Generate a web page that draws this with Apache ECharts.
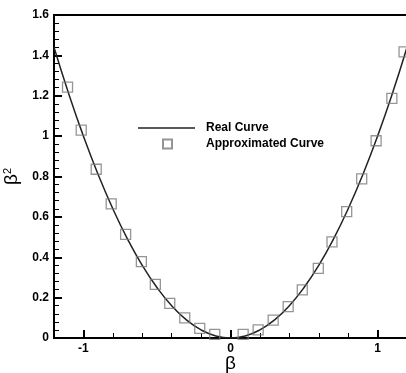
<!DOCTYPE html>
<html>
<head>
<meta charset="utf-8">
<script src="https://cdn.jsdelivr.net/npm/echarts@6/dist/echarts.min.js"></script>
<style>
  html, body { margin: 0; padding: 0; background: #fff; }
  #chart { width: 406px; height: 373px; }
</style>
</head>
<body>
<div id="chart"></div>
<script>
  // real curve
  const curveX = [-1.2, -1.1, -1.0, -0.9, -0.8, -0.7, -0.6, -0.5, -0.4, -0.3, -0.2, -0.1, 0, 0.1, 0.2, 0.3, 0.4, 0.5, 0.6, 0.7, 0.8, 0.9, 1.0, 1.1, 1.2]
  const curveY = [1.44, 1.21, 1.0, 0.81, 0.64, 0.49, 0.36, 0.25, 0.16, 0.09, 0.04, 0.01, 0, 0.01, 0.04, 0.09, 0.16, 0.25, 0.36, 0.49, 0.64, 0.81, 1.0, 1.21, 1.44]
  // approximated points (squares)
  const approxX = [-1.108, -1.015, -0.913, -0.811, -0.713, -0.606, -0.511, -0.413, -0.311, -0.209, -0.107,
    0.086, 0.188, 0.29, 0.392, 0.488, 0.597, 0.69, 0.79, 0.892, 0.99, 1.097, 1.18]
  const approxY = [1.243, 1.03, 0.836, 0.664, 0.513, 0.378, 0.266, 0.172, 0.1, 0.048, 0.018,
    0.018, 0.04, 0.089, 0.155, 0.238, 0.345, 0.476, 0.626, 0.788, 0.977, 1.187, 1.417]
  const xMajorTicks = [-1, 0, 1]
  const xMinorTicks = [-0.8, -0.6, -0.4, -0.2, 0.2, 0.4, 0.6, 0.8]
  const seriesNames = ['Real Curve', 'Approximated Curve']

  const font = '"Liberation Sans", Arial, sans-serif'
  const chart = echarts.init(document.getElementById('chart'))
  const option = {
    animation: false,
    grid: {
      left: 54, right: -1, top: 15, bottom: 35,
      outerBoundsMode: 'none',
      containLabel: false,
      show: true, borderColor: '#000', borderWidth: 2
    },
    legend: [
      {
        data: [seriesNames[0]],
        left: 138, top: 122, padding: 0,
        icon: 'rect',
        itemWidth: 57, itemHeight: 1.5,
        textStyle: { fontFamily: font, fontSize: 12, fontWeight: 'bold', color: '#000', padding: [0, 0, 0, 6] }
      },
      {
        data: [seriesNames[1]],
        left: 162, top: 138, padding: 0,
        itemWidth: 9, itemHeight: 9,
        textStyle: { fontFamily: font, fontSize: 12, fontWeight: 'bold', color: '#000', padding: [0, 0, 0, 29] }
      }
    ],
    xAxis: [
      {
        type: 'value', min: -1.2, max: 1.2,
        name: 'β', nameLocation: 'middle', nameGap: 16, nameMoveOverlap: false,
        nameTextStyle: { fontFamily: font, fontSize: 19, color: '#000' },
        axisLine: { onZero: false, lineStyle: { color: '#000', width: 2 } },
        axisTick: { inside: true, length: 8, customValues: xMajorTicks, lineStyle: { color: '#000', width: 2 } },
        axisLabel: { customValues: xMajorTicks, fontFamily: font, fontSize: 12, fontWeight: 'bold', color: '#000', margin: 5 },
        splitLine: { show: false }
      },
      {
        // minor ticks: a top axis pushed down onto the bottom line
        type: 'value', min: -1.2, max: 1.2, position: 'top', offset: -323,
        axisLine: { show: false, onZero: false },
        axisTick: { show: true, inside: false, length: 5, customValues: xMinorTicks, lineStyle: { color: '#000', width: 1 } },
        axisLabel: { show: false, customValues: xMinorTicks },
        splitLine: { show: false }
      }
    ],
    yAxis: {
      type: 'value', min: 0, max: 1.6, interval: 0.2,
      name: '{b|β}{s|2}', nameLocation: 'middle', nameGap: 33, nameRotate: 90, nameMoveOverlap: false,
      nameTextStyle: {
        color: '#000',
        rich: {
          b: { fontFamily: font, fontSize: 19, color: '#000' },
          s: { fontFamily: font, fontSize: 11, color: '#000', verticalAlign: 'top', padding: [0, 0, 8, 0] }
        }
      },
      axisLine: { show: true, onZero: false, lineStyle: { color: '#000', width: 2 } },
      axisTick: { inside: true, length: 8, lineStyle: { color: '#000', width: 2 } },
      minorTick: { show: true, splitNumber: 5, length: 5, lineStyle: { color: '#000', width: 1 } },
      axisLabel: {
        fontFamily: font, fontSize: 12, fontWeight: 'bold', color: '#000', margin: 5,
        formatter: v => String(+v.toFixed(1))
      },
      splitLine: { show: false }
    },
    series: [
      {
        name: seriesNames[0],
        type: 'line',
        smooth: true,
        showSymbol: false,
        symbol: 'none',
        lineStyle: { color: '#222', width: 1.5 },
        itemStyle: { color: '#222' },
        data: curveX.map((x, i) => [x, curveY[i]]),
        z: 2
      },
      {
        name: seriesNames[1],
        type: 'scatter',
        symbol: 'rect',
        symbolSize: 10,
        itemStyle: { color: 'rgba(255,255,255,0)', borderColor: '#7a7a7a', borderWidth: 1.3 },
        data: approxX.map((x, i) => [x, approxY[i]]),
        z: 3
      }
    ]
  }
  chart.setOption(option)
</script>
</body>
</html>
